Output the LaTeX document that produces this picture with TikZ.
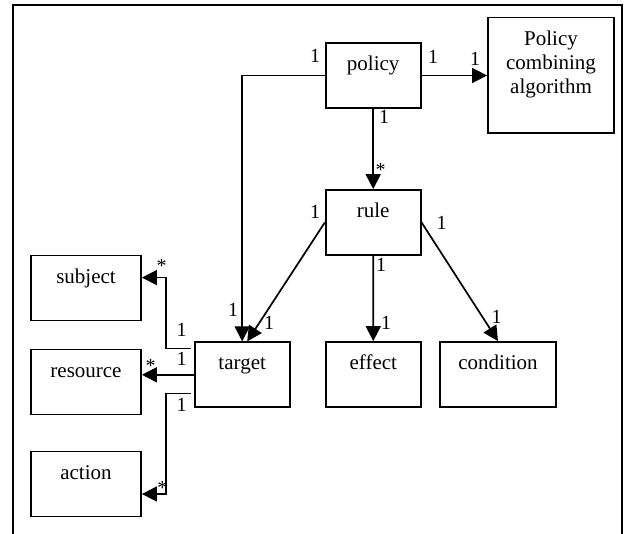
\documentclass[tikz,border=0pt]{standalone}
\usepackage{fontspec}
\setmainfont{Liberation Serif}
\usetikzlibrary{arrows.meta,positioning,calc}

\begin{document}
\begin{tikzpicture}[x=0.5pt,y=-0.5pt,
    box/.style={draw, line width=0.9pt, minimum width=47.5pt, inner xsep=1pt, inner ysep=5.8pt,
      text height=8pt, text depth=12.9pt, font=\fontsize{10.5}{12}\selectfont},
    mult/.style={inner sep=0pt, font=\fontsize{10}{11}\selectfont},
    arr/.style={line width=0.85pt, -{Triangle[length=7.5pt,width=7.5pt]}}]
    \useasboundingbox (0,0) rectangle (627,534);
    % --- frame (open at the bottom) ---
    \draw[line width=1pt] (12.7,534) -- (12.7,5) -- (621.7,5) -- (621.7,534);

    % --- classes ---
    \node[box] (policy) at (373.2,75.5) {policy};
    \node[box, minimum width=63pt, align=center, inner ysep=6.9pt,
      text height=31pt, text depth=13.1pt] (pca) at (551,75.5) {Policy\\combining\\algorithm};
    \node[box] (rule) at (373.2,222.5) {rule};
    \node[box] (target) at (242.2,374.8) {target};
    \node[box] (effect) at (373.3,374.5) {effect};
    \node[box, minimum width=58pt] (condition) at (498,374.5) {condition};
    \node[box, minimum width=55pt] (subject) at (86,288) {subject};
    \node[box, minimum width=55pt] (resource) at (86,382) {resource};
    \node[box, minimum width=55pt] (action) at (86,484) {action};

    % --- associations ---
    \draw[arr] (policy.west) -| (target.north);
    \draw[arr] (policy.east) -- (pca.west);
    \draw[arr] (policy) -- (rule);
    \draw[arr] (rule.west) -- ([xshift=2.5pt]target.north);
    \draw[arr] (rule) -- (effect);
    \draw[arr] (rule.east) -- (condition.north);
    \draw[arr] ([xshift=-1.3pt,yshift=-3.5pt]target.north west) -- ++(-12.5pt,0) |- ([yshift=-11.5pt]subject.north east);
    \draw[arr] (target.west) -- (target.west -| resource.east);
    \draw[arr] ([xshift=-1.3pt,yshift=7.3pt]target.south west) -- ++(-12.5pt,0) |- ([yshift=-5pt]action.east);

    % --- multiplicities ---
    \node[mult] (polT) at (315,55.7) {1};
    \node[mult] (polA) at (433,56.7) {1};
    \node[mult] (pcaP) at (475,59.3) {1};
    \node[mult] (polR) at (384,116.7) {1};
    \node[mult] (rulP) at (380.7,169.7) {*};
    \node[mult] (rulT) at (315,211.7) {1};
    \node[mult] (rulC) at (441.7,223) {1};
    \node[mult] (rulE) at (381,265) {1};
    \node[mult] (effR) at (386,323) {1};
    \node[mult] (conR) at (496.7,316.7) {1};
    \node[mult] (tarP) at (233,310) {1};
    \node[mult] (tarR) at (269,323) {1};
    \node[mult] (subT) at (161.7,266.3) {*};
    \node[mult] (tarS) at (181.7,330) {1};
    \node[mult] (resT) at (150.7,366.3) {*};
    \node[mult] (tarRes) at (181.7,359.3) {1};
    \node[mult] (actT) at (162.3,488) {*};
    \node[mult] (tarAct) at (181.7,405) {1};
\end{tikzpicture}
\end{document}
